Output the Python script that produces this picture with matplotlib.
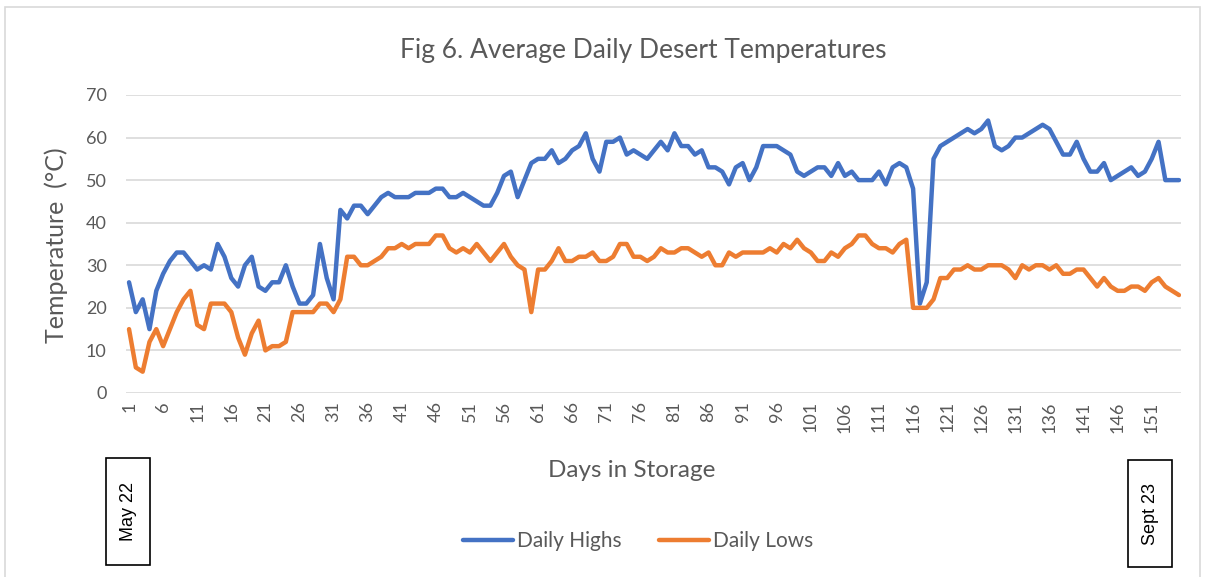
import matplotlib
matplotlib.use("Agg")
import matplotlib.pyplot as plt
from matplotlib.patches import Rectangle

# days in storage, 22 May to 23 Sept
days = list(range(1, 156))

daily_highs = [
    26, 19, 22, 15, 24, 28, 31, 33, 33, 31,
    29, 30, 29, 35, 32, 27, 25, 30, 32, 25,
    24, 26, 26, 30, 25, 21, 21, 23, 35, 27,
    22, 43, 41, 44, 44, 42, 44, 46, 47, 46,
    46, 46, 47, 47, 47, 48, 48, 46, 46, 47,
    46, 45, 44, 44, 47, 51, 52, 46, 50, 54,
    55, 55, 57, 54, 55, 57, 58, 61, 55, 52,
    59, 59, 60, 56, 57, 56, 55, 57, 59, 57,
    61, 58, 58, 56, 57, 53, 53, 52, 49, 53,
    54, 50, 53, 58, 58, 58, 57, 56, 52, 51,
    52, 53, 53, 51, 54, 51, 52, 50, 50, 50,
    52, 49, 53, 54, 53, 48, 21, 26, 55, 58,
    59, 60, 61, 62, 61, 62, 64, 58, 57, 58,
    60, 60, 61, 62, 63, 62, 59, 56, 56, 59,
    55, 52, 52, 54, 50, 51, 52, 53, 51, 52,
    55, 59, 50, 50, 50,
]

daily_lows = [
    15, 6, 5, 12, 15, 11, 15, 19, 22, 24,
    16, 15, 21, 21, 21, 19, 13, 9, 14, 17,
    10, 11, 11, 12, 19, 19, 19, 19, 21, 21,
    19, 22, 32, 32, 30, 30, 31, 32, 34, 34,
    35, 34, 35, 35, 35, 37, 37, 34, 33, 34,
    33, 35, 33, 31, 33, 35, 32, 30, 29, 19,
    29, 29, 31, 34, 31, 31, 32, 32, 33, 31,
    31, 32, 35, 35, 32, 32, 31, 32, 34, 33,
    33, 34, 34, 33, 32, 33, 30, 30, 33, 32,
    33, 33, 33, 33, 34, 33, 35, 34, 36, 34,
    33, 31, 31, 33, 32, 34, 35, 37, 37, 35,
    34, 34, 33, 35, 36, 20, 20, 20, 22, 27,
    27, 29, 29, 30, 29, 29, 30, 30, 30, 29,
    27, 30, 29, 30, 30, 29, 30, 28, 28, 29,
    29, 27, 25, 27, 25, 24, 24, 25, 25, 24,
    26, 27, 25, 24, 23,
]

x_ticks = list(range(1, 156, 5))
y_ticks = list(range(0, 71, 10))

grey = "#595959"
font = ["Lato", "DejaVu Sans"]
plt.rcParams["font.family"] = font

fig = plt.figure(figsize=(12.06, 5.77), dpi=100)

# light outer frame of the chart area
fig.patches.append(Rectangle((0.004, -0.05), 0.991, 1.038, transform=fig.transFigure,
                             fill=False, edgecolor="#d9d9d9", lw=1.2))

ax = fig.add_axes([0.1045, 0.3189, 0.8748, 0.5165])
ax.plot(days, daily_highs, color="#4472C4", lw=3.2, label="Daily Highs",
        solid_joinstyle="round", solid_capstyle="round")
ax.plot(days, daily_lows, color="#ED7D31", lw=3.2, label="Daily Lows",
        solid_joinstyle="round", solid_capstyle="round")

ax.set_xlim(0.56, 155.3)
ax.set_ylim(0, 70)
ax.set_yticks(y_ticks)
ax.set_xticks(x_ticks)
ax.set_xticklabels([str(t) for t in x_ticks], rotation=90)
ax.grid(axis="y", color="#d9d9d9", lw=1.2)
ax.set_axisbelow(True)
for s in ax.spines.values():
    s.set_visible(False)
ax.tick_params(length=0, colors=grey, labelsize=13)
ax.tick_params(axis="y", pad=14)
ax.tick_params(axis="x", pad=6)

fig.text(0.533, 0.912, "Fig 6. Average Daily Desert Temperatures", ha="center", va="center",
         fontsize=19, color=grey)
fig.text(0.047, 0.575, "Temperature  (\u00b0C)", rotation=90, ha="center", va="center",
         fontsize=18, color=grey)
fig.text(0.524, 0.185, "Days in Storage", ha="center", va="center", fontsize=17.5, color=grey)

fig.legend(loc="center", bbox_to_anchor=(0.529, 0.062), ncol=2, frameon=False,
           fontsize=15, labelcolor=grey, handlelength=2.4, handletextpad=0.2,
           columnspacing=1.8)

# date boxes at start and end of the storage period
for x0, y0, label in [(0.0879, 0.0208, "May 22"), (0.9353, 0.0173, "Sept 23")]:
    fig.patches.append(Rectangle((x0, y0), 0.0365, 0.1854, transform=fig.transFigure,
                                 fill=False, edgecolor="black", lw=1.2))
    fig.text(x0 + 0.0183, y0 + 0.0927, label, rotation=90, ha="center", va="center",
             fontsize=13, color="black", family=["Liberation Sans", "DejaVu Sans"])

fig.savefig("out.png", dpi=100)
